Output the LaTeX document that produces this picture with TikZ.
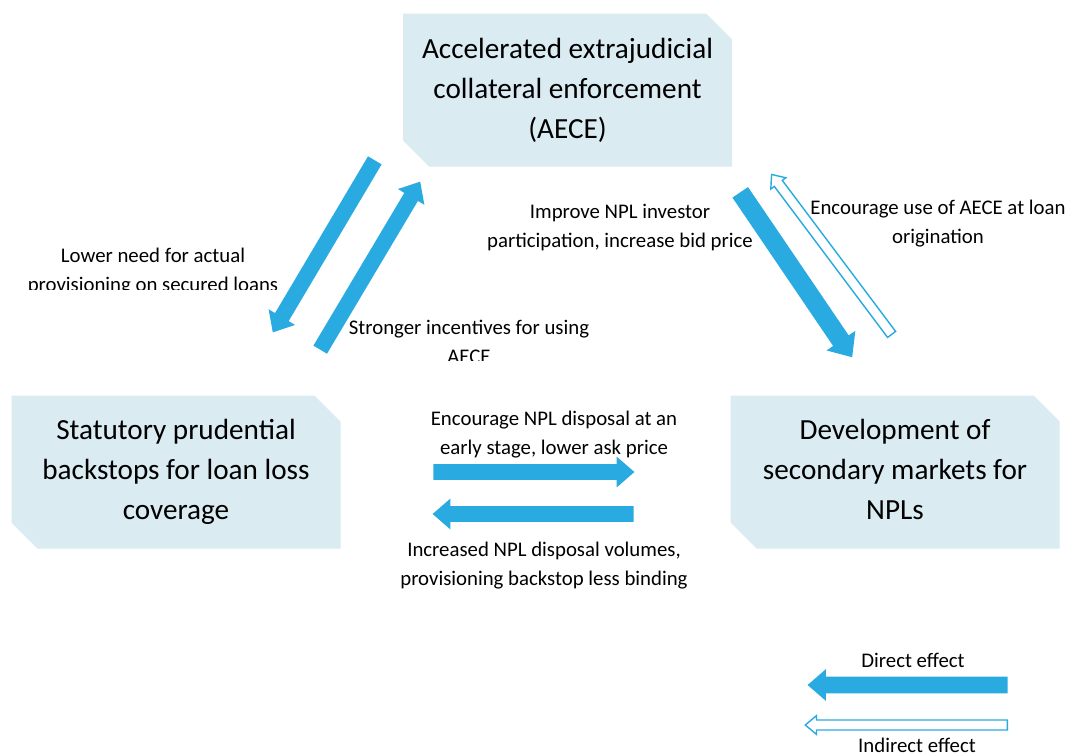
\documentclass[tikz,border=0pt]{standalone}
\usepackage{fontspec}
\setmainfont{Carlito}
\usetikzlibrary{shapes.misc,shapes.arrows,calc}

\definecolor{boxfill}{RGB}{218,235,242}
\definecolor{arrowblue}{RGB}{41,171,226}
\newcommand{\boxfont}{\fontsize{14.6}{20}\selectfont}
\newcommand{\lblfont}{\fontsize{10.4}{14.5}\selectfont}
\newcommand{\fatarrow}[3][]{%
  \path let \p1=($(#3)-(#2)$), \n1={atan2(\y1,\x1)}, \n2={veclen(\x1,\y1)} in
    node[#1, anchor=tail, rotate=\n1, minimum height=\n2] at (#2) {};}

\tikzset{
  box/.style={chamfered rectangle, chamfered rectangle corners={north east,south west},
    chamfered rectangle xsep=6.5pt, chamfered rectangle ysep=6.5pt, fill=boxfill,
    minimum width=164.5pt, minimum height=76.5pt, inner xsep=-10pt, inner ysep=0pt,
    align=center, font=\boxfont},
  lbl/.style={align=center, inner sep=0pt, font=\lblfont},
  direct/.style={single arrow, fill=arrowblue, inner sep=3.75pt, minimum width=15pt,
    single arrow head extend=3.75pt, single arrow tip angle=82},
  indirect/.style={single arrow, draw=arrowblue, fill=white, line width=0.7pt, inner sep=2.15pt,
    minimum width=9pt, single arrow head extend=2.2pt, single arrow tip angle=80}
}

\begin{document}
\begin{tikzpicture}[x=0.5pt,y=-0.5pt]
  \useasboundingbox[fill=white] (0,0) rectangle (1070,755);

  \node[box] (aece) at (567.5,90) {Accelerated extrajudicial\\collateral enforcement\\(AECE)};
  \node[box] (backstop) at (176,472) {Statutory prudential\\backstops for loan loss\\coverage};
  \node[box] (market) at (895,472) {Development of\\secondary markets for\\NPLs\vphantom{g}};

  \coordinate (lowT) at (375,160);   \coordinate (lowH) at (273,332);
  \coordinate (strT) at (320,350);   \coordinate (strH) at (420,182);
  \coordinate (impT) at (740,192);   \coordinate (impH) at (852,357);
  \coordinate (useT) at (892,335);   \coordinate (useH) at (772,175);
  \coordinate (dispT) at (433,472);  \coordinate (dispH) at (634,472);
  \coordinate (volT) at (634,514);   \coordinate (volH) at (433,514);
  \coordinate (dirT) at (1008,685);  \coordinate (dirH) at (808,685);
  \coordinate (indT) at (1008,725);  \coordinate (indH) at (806,725);

  \fatarrow[direct, name=lowArr]{lowT}{lowH}
  \fatarrow[direct, name=strArr]{strT}{strH}
  \fatarrow[direct, name=impArr, inner sep=4.5pt, minimum width=17pt, single arrow head extend=4pt]{impT}{impH}
  \fatarrow[indirect, name=useArr]{useT}{useH}
  \fatarrow[direct, name=dispArr]{dispT}{dispH}
  \fatarrow[direct, name=volArr]{volT}{volH}
  \fatarrow[direct, name=dirArr, inner sep=4pt]{dirT}{dirH}
  \fatarrow[indirect, name=indArr]{indT}{indH}

  \begin{scope}
    \clip (10,235) rectangle (300,289);
    \node[lbl] (lower) at (153,272) {Lower need for actual\\provisioning on secured loans};
  \end{scope}
  \begin{scope}
    \clip (330,310) rectangle (620,360);
    \node[lbl] (stronger) at (469,342) {Stronger incentives for using\\AECE};
  \end{scope}
  \node[lbl] (improve) at (620,228) {Improve NPL investor\\participation, increase bid price};
  \node[lbl] (encuse) at (938,224) {Encourage use of AECE at loan\\origination};
  \node[lbl] (encdisp) at (554,435) {Encourage NPL disposal at an\\early stage, lower ask price};
  \node[lbl] (volumes) at (544,566) {Increased NPL disposal volumes,\\provisioning backstop less binding};
  \node[lbl] (direct) at (913,660) {Direct effect};
  \node[lbl] (indirect) at (917,745) {Indirect effect};
\end{tikzpicture}
\end{document}
